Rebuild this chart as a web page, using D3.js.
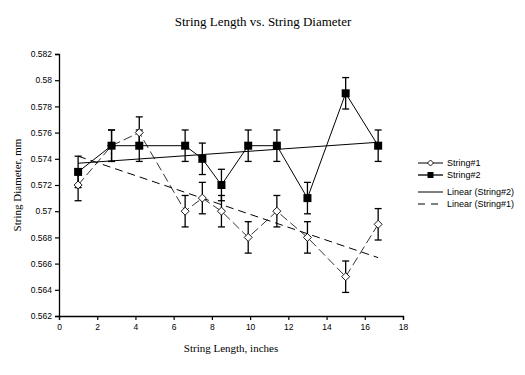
<!DOCTYPE html>
<html><head><meta charset="utf-8">
<script src="https://cdn.jsdelivr.net/npm/d3@7"></script>
<style>body{margin:0;background:#fff}svg{display:block}</style>
</head><body><svg id="c" width="525" height="375"></svg>
<script>
const lengths = [1, 2.75, 4.2, 6.6, 7.5, 8.5, 9.9, 11.4, 13, 15, 16.7];
const string1 = [0.572, 0.575, 0.576, 0.570, 0.571, 0.570, 0.568, 0.570, 0.568, 0.565, 0.569];
const string2 = [0.573, 0.575, 0.575, 0.575, 0.574, 0.572, 0.575, 0.575, 0.571, 0.579, 0.575];
const errorAmount = 0.0012;
const xTicks = [0, 2, 4, 6, 8, 10, 12, 14, 16, 18];
const yTicks = [0.562, 0.564, 0.566, 0.568, 0.57, 0.572, 0.574, 0.576, 0.578, 0.58, 0.582];
const legendLabels = ["String#1", "String#2", "Linear (String#2)", "Linear (String#1)"];

const svg = d3.select("#c");
const x = d3.scaleLinear().domain([0, 18]).range([59, 403]);
const y = d3.scaleLinear().domain([0.562, 0.582]).range([316, 54]);
const sans = "'Liberation Sans', Arial, sans-serif";
const serif = "'Liberation Serif', 'Times New Roman', serif";

// axes
const xAxis = svg.append("g").attr("transform", `translate(0,${y(0.562)})`)
  .call(d3.axisBottom(x).tickValues(xTicks).tickSize(4).tickPadding(4).tickFormat(d3.format("d")));
const yAxis = svg.append("g").attr("transform", `translate(${x(0)},0)`)
  .call(d3.axisLeft(y).tickValues(yTicks).tickSize(4).tickPadding(3).tickFormat(d => String(+d.toFixed(3))));
[xAxis, yAxis].forEach(a => {
  a.select(".domain").attr("stroke", "#000").attr("stroke-width", 1.3);
  a.selectAll(".tick line").attr("stroke", "#000").attr("stroke-width", 1.2);
  a.selectAll("text").attr("font-family", sans).attr("font-size", 8.5).attr("fill", "#000");
});

// regression
function fit(xs, ys) {
  const n = xs.length, mx = d3.mean(xs), my = d3.mean(ys);
  let sxy = 0, sxx = 0;
  for (let i = 0; i < n; i++) { sxy += (xs[i]-mx)*(ys[i]-my); sxx += (xs[i]-mx)**2; }
  const b = sxy / sxx, a = my - b*mx;
  return v => a + b*v;
}
const f1 = fit(lengths, string1), f2 = fit(lengths, string2);
const [xmin, xmax] = d3.extent(lengths);
svg.append("line").attr("x1", x(xmin)).attr("x2", x(xmax)).attr("y1", y(f2(xmin))).attr("y2", y(f2(xmax)))
  .attr("stroke", "#000").attr("stroke-width", 1);
svg.append("line").attr("x1", x(xmin)).attr("x2", x(xmax)).attr("y1", y(f1(xmin))).attr("y2", y(f1(xmax)))
  .attr("stroke", "#000").attr("stroke-width", 1).attr("stroke-dasharray", "8,5");

const line = d3.line().x(d => x(d[0])).y(d => y(d[1]));
const s1 = lengths.map((l, i) => [l, string1[i]]);
const s2 = lengths.map((l, i) => [l, string2[i]]);

svg.append("path").attr("d", line(s1)).attr("fill", "none").attr("stroke", "#000").attr("stroke-width", 0.8).attr("stroke-dasharray", "9,4");
svg.append("path").attr("d", line(s2)).attr("fill", "none").attr("stroke", "#000").attr("stroke-width", 1);

// error bars
function errorBars(data) {
  const g = svg.append("g").attr("stroke", "#000").attr("stroke-width", 1.3);
  data.forEach(d => {
    const cx = x(d[0]), t = y(d[1] + errorAmount), b = y(d[1] - errorAmount);
    g.append("line").attr("x1", cx).attr("x2", cx).attr("y1", t).attr("y2", b);
    g.append("line").attr("x1", cx-3.5).attr("x2", cx+3.5).attr("y1", t).attr("y2", t);
    g.append("line").attr("x1", cx-3.5).attr("x2", cx+3.5).attr("y1", b).attr("y2", b);
  });
}
errorBars(s1); errorBars(s2);

function diamond(g, cx, cy, r) {
  g.append("path").attr("d", `M${cx},${cy-r}L${cx+r},${cy}L${cx},${cy+r}L${cx-r},${cy}Z`)
    .attr("fill", "#fff").attr("stroke", "#000").attr("stroke-width", 0.9);
}
function square(g, cx, cy, s) {
  g.append("rect").attr("x", cx-s/2).attr("y", cy-s/2).attr("width", s).attr("height", s).attr("fill", "#000");
}
const mk = svg.append("g");
s1.forEach(d => diamond(mk, x(d[0]), y(d[1]), 4));
s2.forEach(d => square(mk, x(d[0]), y(d[1]), 8));

// titles
svg.append("text").attr("x", 263).attr("y", 26).attr("text-anchor", "middle")
  .attr("font-family", serif).attr("font-size", 13).text("String Length vs. String Diameter");
svg.append("text").attr("x", 231).attr("y", 352).attr("text-anchor", "middle")
  .attr("font-family", serif).attr("font-size", 11).text("String Length, inches");
svg.append("text").attr("transform", `translate(21,185) rotate(-90)`).attr("text-anchor", "middle")
  .attr("font-family", serif).attr("font-size", 11).text("String Diameter, mm");

// legend
const lg = svg.append("g");
const ly = [163, 175, 192, 204];
legendLabels.forEach((t, i) => {
  const l = lg.append("line").attr("x1", 418).attr("x2", 443).attr("y1", ly[i]).attr("y2", ly[i])
    .attr("stroke", "#000").attr("stroke-width", i === 1 ? 1.3 : 1);
  if (i === 3) l.attr("stroke-dasharray", "7,6");
  lg.append("text").attr("x", 447).attr("y", ly[i] + 3.2).attr("font-family", sans).attr("font-size", 9).text(t);
});
diamond(lg, 430.5, ly[0], 3);
square(lg, 430.5, ly[1], 6);
</script></body></html>
